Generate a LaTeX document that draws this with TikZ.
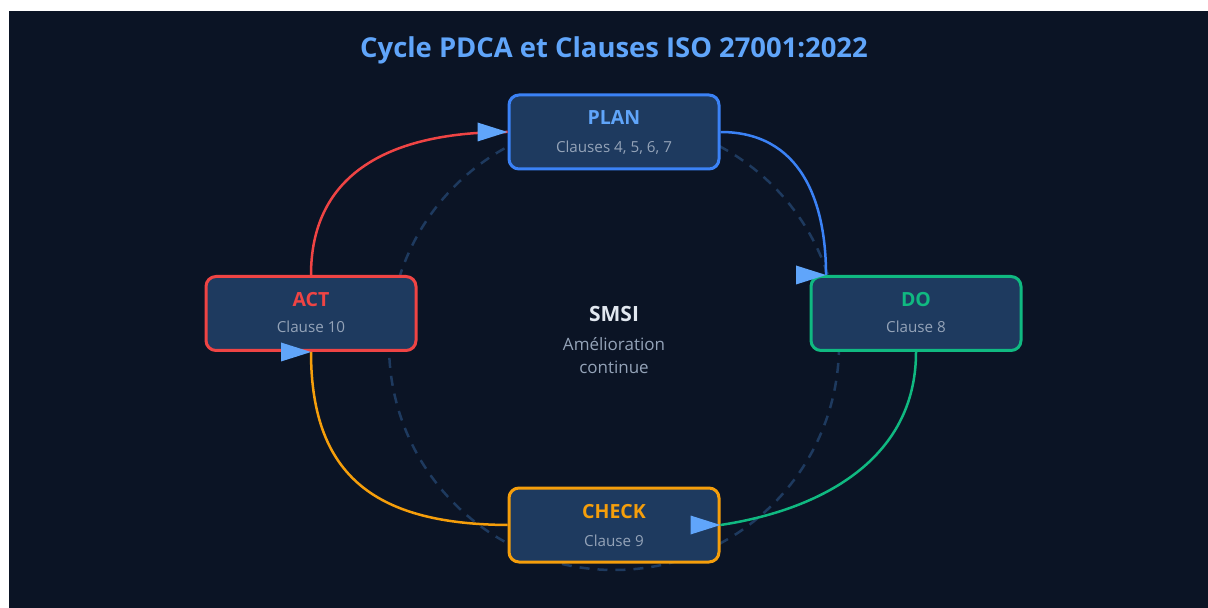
\documentclass[tikz,border=0pt]{standalone}
\usepackage{fontspec}
\setmainfont{Open Sans}
\usetikzlibrary{positioning}

\definecolor{fond}{HTML}{0B1425}
\definecolor{boitefond}{HTML}{1E3A5F}
\definecolor{cerclec}{HTML}{1E3A5F}
\definecolor{bleu}{HTML}{3B82F6}
\definecolor{bleuclair}{HTML}{60A5FA}
\definecolor{vert}{HTML}{10B981}
\definecolor{rouge}{HTML}{EF4444}
\definecolor{orange}{HTML}{F59E0B}
\definecolor{gristexte}{HTML}{94A3B8}
\definecolor{blanccasse}{HTML}{E2E8F0}

\begin{document}
\begin{tikzpicture}[x=0.5pt, y=-0.5pt,
	boite/.style={draw, line width=1.5pt, rounded corners=5pt, fill=boitefond, minimum width=105pt, minimum height=37pt, inner sep=0pt},
	titre/.style={font=\bfseries\fontsize{9.75}{11}\selectfont, inner sep=0pt, anchor=base},
	sous/.style={font=\fontsize{7.6}{9}\selectfont, text=gristexte, inner sep=0pt, anchor=base},
	centre/.style={font=\fontsize{8.5}{10}\selectfont, text=gristexte, inner sep=0pt, anchor=base},
	lien/.style={line width=1.25pt},
	pointe/.style={fill=bleuclair}]
	% fond
	\fill[white] (0,0) rectangle (1208,608);
	\fill[fond] (9,11) rectangle (1208,608);
	\node[font=\bfseries\fontsize{13.7}{16}\selectfont, text=bleuclair, inner sep=0pt, anchor=base] (titre) at (614,57.5) {Cycle PDCA et Clauses ISO 27001:2022};
	\draw[cerclec, line width=1.25pt, dash pattern=on 5pt off 4pt] (614,345) circle (225);
	% les quatre etapes
	\node[boite, draw=bleu] (plan) at (614,132) {};
	\node[boite, draw=vert] (do) at (916,313.5) {};
	\node[boite, draw=orange] (check) at (614,525) {};
	\node[boite, draw=rouge] (act) at (311,313.5) {};
	\node[titre, text=bleuclair] (plantitre) at (614,124.5) {PLAN};
	\node[sous] (plansous) at (614,153) {Clauses 4, 5, 6, 7};
	\node[titre, text=vert] (dotitre) at (916,306.5) {DO};
	\node[sous] (dosous) at (916,333) {Clause 8};
	\node[titre, text=orange] (checktitre) at (614,518.5) {CHECK};
	\node[sous] (checksous) at (614,546) {Clause 9};
	\node[titre, text=rouge] (acttitre) at (311,306.5) {ACT};
	\node[sous] (actsous) at (311,333) {Clause 10};
	% centre
	\node[titre, font=\bfseries\fontsize{10.5}{12}\selectfont, text=blanccasse] (smsi) at (614,322) {SMSI};
	\node[centre] (amelio) at (614,351) {Amélioration};
	\node[centre] (continue) at (614,374) {continue};
	% fleches du cycle
	\coordinate (doentree) at ([xshift=-45pt]do.north);
	\draw[lien, bleu] (plan.east) .. controls (800,132) and (826,200) .. (doentree);
	\draw[lien, vert] (do.south) .. controls (916,460) and (820,510) .. (check.east);
	\draw[lien, orange] (check.west) .. controls (380,524) and (311,480) .. (act.south);
	\draw[lien, rouge] (act.north) .. controls (311,180) and (380,132) .. (plan.west);
	\fill[pointe] (doentree) -- ++(-30,-9.5) -- ++(0,19) -- cycle;
	\fill[pointe] (check.east) -- ++(-30,-9.5) -- ++(0,19) -- cycle;
	\fill[pointe] (act.south) -- ++(-30,-9.5) -- ++(0,19) -- cycle;
	\fill[pointe] (plan.west) -- ++(-30,-9.5) -- ++(0,19) -- cycle;
\end{tikzpicture}
\end{document}
